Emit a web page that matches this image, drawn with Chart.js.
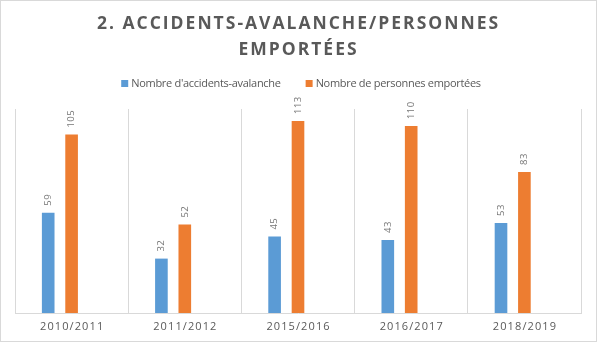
<!DOCTYPE html>
<html><head><meta charset="utf-8">
<script src="https://cdn.jsdelivr.net/npm/chart.js@4"></script>
<style>
html,body{margin:0;padding:0;background:#fff;}
#wrap{position:relative;width:597px;height:342px;box-sizing:border-box;border:1px solid #d9d9d9;background:#fff;}
canvas{display:block;}
</style></head><body>
<div id="wrap"><canvas id="c" width="595" height="340"></canvas></div>
<script>
const titleLines = ['2. ACCIDENTS-AVALANCHE/PERSONNES', 'EMPORTÉES'];
const categories = ['2010/2011', '2011/2012', '2015/2016', '2016/2017', '2018/2019'];
const seriesNames = ["Nombre d'accidents-avalanche", 'Nombre de personnes emportées'];
const accidents = [59, 32, 45, 43, 53];
const emportees = [105, 52, 113, 110, 83];
const emptySeries = [null, null, null, null, null];
const yMin = 0;
const yMax = 120;

const BLUE = '#5B9BD5', ORANGE = '#ED7D31', GRID = '#d9d9d9', TEXT = '#595959';

function spacedText(ctx, text, x, y, ls) {
  ctx.letterSpacing = ls + 'px';
  // compensate trailing spacing for centered text
  const off = ctx.textAlign === 'center' ? ls / 2 : 0;
  ctx.fillText(text, x + off, y);
  ctx.letterSpacing = '0px';
}

const overlay = {
  id: 'overlay',
  afterDraw(chart) {
    const ctx = chart.ctx;
    const area = chart.chartArea;
    const cx = chart.width / 2 - 1;
    ctx.save();
    // Title
    ctx.fillStyle = TEXT;
    ctx.font = 'bold 17.5px "Open Sans"';
    ctx.textAlign = 'center';
    ctx.textBaseline = 'alphabetic';
    spacedText(ctx, titleLines[0], cx, 28, 2);
    spacedText(ctx, titleLines[1], cx, 54, 2);

    // Legend
    ctx.font = '11px "Open Sans"';
    ctx.textAlign = 'left';
    ctx.textBaseline = 'middle';
    const lsLeg = -0.3;
    ctx.letterSpacing = lsLeg + 'px';
    const items = chart.data.datasets.filter(d => d.label);
    const box = 7, boxGap = 3, itemGap = 25;
    const widths = items.map(d => ctx.measureText(d.label).width);
    let total = 0;
    widths.forEach((w, i) => { total += box + boxGap + w + (i ? itemGap : 0); });
    let x = 300 - total / 2;
    const ly = 82.5;
    items.forEach((d, i) => {
      ctx.fillStyle = d.backgroundColor;
      ctx.fillRect(x, ly - 3.5, box, box);
      ctx.fillStyle = TEXT;
      ctx.fillText(d.label, x + box + boxGap, ly);
      x += box + boxGap + widths[i] + itemGap;
    });
    ctx.letterSpacing = '0px';

    // X labels
    const xs = chart.scales.x;
    ctx.font = '11px "Open Sans"';
    ctx.textAlign = 'center';
    ctx.textBaseline = 'alphabetic';
    ctx.fillStyle = TEXT;
    xs.ticks.forEach((t, i) => {
      spacedText(ctx, xs.getLabelForValue(t.value), xs.getPixelForTick(i), area.bottom + 17, 1.1);
    });

    // Data labels (rotated)
    ctx.font = '9.5px "Open Sans"';
    ctx.fillStyle = '#767676';
    ctx.textAlign = 'left';
    ctx.textBaseline = 'middle';
    chart.data.datasets.forEach((ds, di) => {
      if (!ds.label) return;
      const meta = chart.getDatasetMeta(di);
      meta.data.forEach((bar, i) => {
        const v = ds.data[i];
        if (v == null) return;
        ctx.save();
        ctx.translate(bar.x, bar.y - 7);
        ctx.rotate(-Math.PI / 2);
        ctx.letterSpacing = '0.4px';
        ctx.fillText(String(v), 0, 0);
        ctx.restore();
      });
    });
    ctx.restore();
  }
};

const common = { categoryPercentage: 0.62, barPercentage: 0.54 };

new Chart(document.getElementById('c'), {
  type: 'bar',
  data: {
    labels: categories,
    datasets: [
      Object.assign({ label: seriesNames[0], data: accidents, backgroundColor: BLUE }, common),
      Object.assign({ label: seriesNames[1], data: emportees, backgroundColor: ORANGE }, common),
      Object.assign({ label: '', data: emptySeries, backgroundColor: 'rgba(0,0,0,0)' }, common)
    ]
  },
  options: {
    responsive: false,
    animation: false,
    devicePixelRatio: 1,
    layout: { padding: { left: 14, right: 15, top: 108, bottom: 28 } },
    plugins: { legend: { display: false }, title: { display: false }, tooltip: { enabled: false } },
    scales: {
      x: {
        grid: { color: GRID, drawTicks: false, offset: true, lineWidth: 1 },
        border: { color: GRID, width: 1 },
        ticks: { display: false }
      },
      y: { display: false, min: yMin, max: yMax }
    }
  },
  plugins: [overlay]
});
</script>
</body></html>
